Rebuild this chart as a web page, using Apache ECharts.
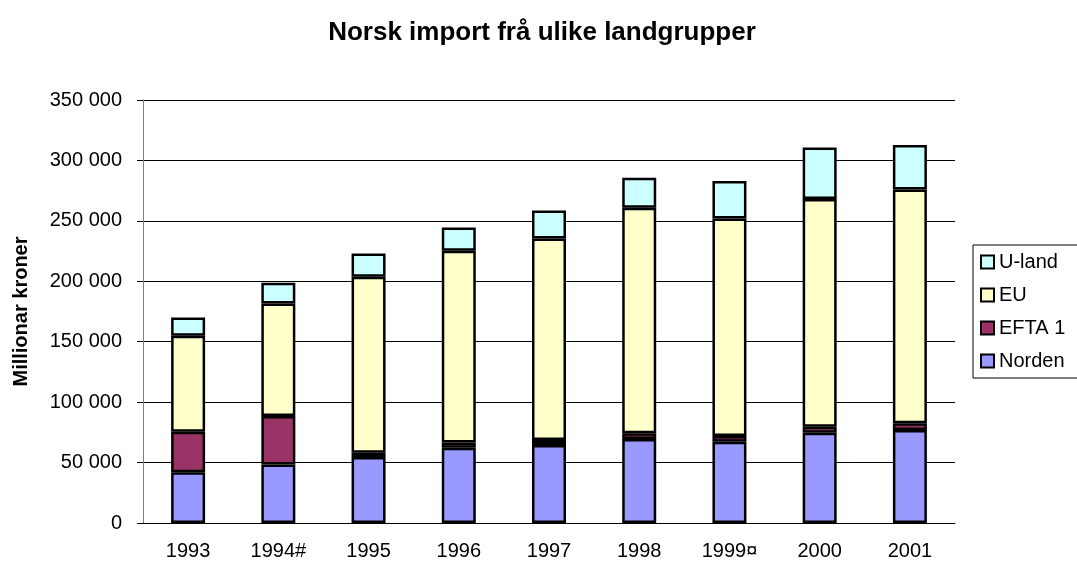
<!DOCTYPE html>
<html>
<head>
<meta charset="utf-8">
<script src="https://cdn.jsdelivr.net/npm/echarts@6/dist/echarts.min.js"></script>
<style>
  html, body { margin: 0; padding: 0; background: #fff; }
  #chart { width: 1077px; height: 563px; }
</style>
</head>
<body>
<div id="chart"></div>
<script>
// Years (x axis)
const years = ['1993', '1994#', '1995', '1996', '1997', '1998', '1999¤', '2000', '2001']

// Import by country group, million NOK
const norden = [42000, 48500, 54600, 62300, 64500, 69500, 67300, 74700, 76900]
const efta1 = [33500, 40000, 3600, 4400, 4200, 4700, 4700, 5000, 5600]
const eu = [79500, 93200, 145500, 158500, 166800, 186600, 180000, 188300, 193500]
const uland = [15000, 17000, 19300, 19400, 23100, 24800, 30900, 42700, 36700]

const fmt = v => String(v).replace(/\B(?=(\d{3})+(?!\d))/g, ' ')

var myChart = echarts.init(document.getElementById('chart'))

function barSeries(name, data, color) {
  return {
    name: name,
    type: 'bar',
    stack: 'total',
    data: data,
    barWidth: 34,
    itemStyle: {
      color: color,
      borderColor: '#000',
      borderWidth: 2.5
    }
  }
}

myChart.setOption({
  animation: false,
  textStyle: { fontFamily: 'Liberation Sans, Arial, sans-serif' },
  title: {
    text: 'Norsk import frå ulike landgrupper',
    left: 537,
    textAlign: 'center',
    top: 15,
    textStyle: { fontSize: 26, fontWeight: 'bold', color: '#000' }
  },
  grid: {
    left: 143,
    right: 122,
    top: 100,
    bottom: 40
  },
  legend: {
    data: ['U-land', 'EU', 'EFTA 1', 'Norden'],
    orient: 'vertical',
    left: 973,
    top: 245,
    padding: [7, 40, 7, 7],
    itemGap: 13,
    itemWidth: 13,
    itemHeight: 13,
    borderColor: '#000',
    borderWidth: 1,
    icon: 'rect',
    textStyle: { fontSize: 20, color: '#000' }
  },
  xAxis: {
    type: 'category',
    data: years,
    axisLine: { lineStyle: { color: '#000', width: 1 } },
    axisTick: { alignWithLabel: false, length: 6, lineStyle: { color: '#000' } },
    axisLabel: { fontSize: 20, color: '#000', margin: 18 }
  },
  yAxis: {
    type: 'value',
    min: 0,
    max: 350000,
    interval: 50000,
    name: 'Millionar kroner',
    nameLocation: 'middle',
    nameGap: 112,
    nameTextStyle: { fontSize: 20, fontWeight: 'bold', color: '#000' },
    axisLine: { show: true, lineStyle: { color: '#808080', width: 1 } },
    axisTick: { show: true, inside: false, length: 6, lineStyle: { color: '#000' } },
    axisLabel: { fontSize: 20, color: '#000', margin: 21, formatter: fmt },
    splitLine: { lineStyle: { color: '#000', width: 1 } }
  },
  series: [
    barSeries('Norden', norden, '#9999FF'),
    barSeries('EFTA 1', efta1, '#993366'),
    barSeries('EU', eu, '#FFFFCC'),
    barSeries('U-land', uland, '#CCFFFF')
  ]
})
</script>
</body>
</html>
